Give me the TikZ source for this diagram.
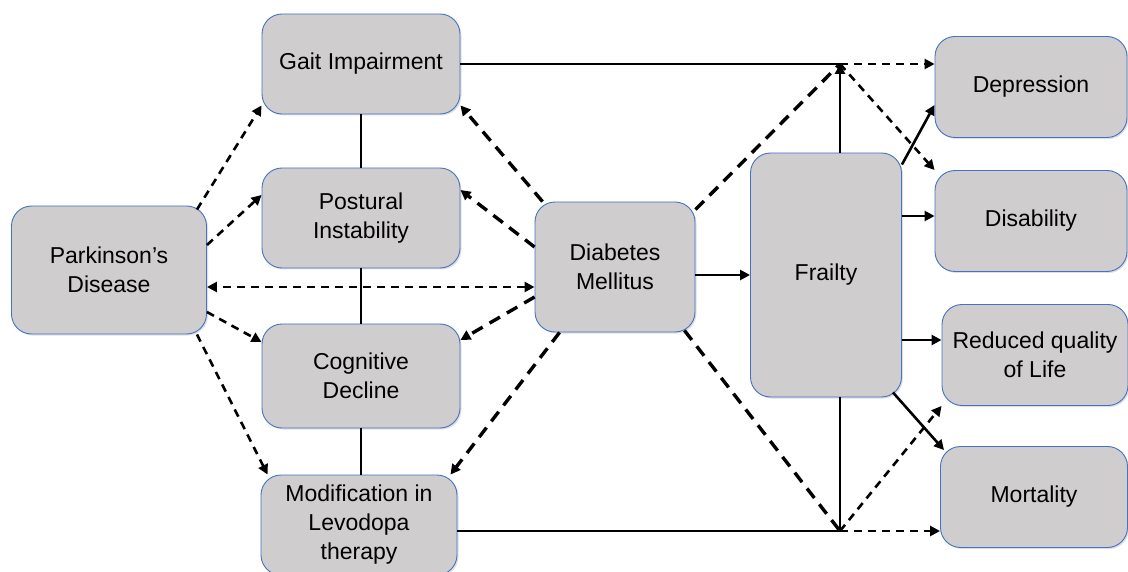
\documentclass[tikz,border=0pt]{standalone}
\usepackage{fontspec}
\setmainfont{Liberation Sans}
\usetikzlibrary{arrows.meta,shadows}
\definecolor{boxgray}{RGB}{208,205,206}
\definecolor{boxblue}{RGB}{68,114,196}

\begin{document}
\begin{tikzpicture}[x=1pt,y=-1pt,
  box/.style={draw=boxblue,line width=0.9pt,fill=boxgray,rounded corners=20pt,align=center,
    font=\fontsize{23}{29}\selectfont,
    drop shadow={opacity=0.25,shadow xshift=1.5pt,shadow yshift=-1.5pt}},
  link/.style={line width=2.6pt},
  dlink/.style={line width=2.6pt,dash pattern=on 8pt off 6pt},
  Dlink/.style={line width=3.4pt,dash pattern=on 12pt off 8pt},
  >={Triangle[length=10pt,width=10pt]}]
\useasboundingbox (0,0) rectangle (1128,572);

\node[box,minimum width=198pt,minimum height=100pt] (gait) at (361,64) {Gait Impairment};
\node[box,minimum width=198pt,minimum height=100pt] (post) at (361,218) {Postural\\Instability};
\node[box,minimum width=198pt,minimum height=104pt] (cogn) at (361,376) {Cognitive\\Decline};
\node[box,minimum width=196pt,minimum height=100pt] (levo) at (359,525) {Modification in\\Levodopa\\therapy};
\node[box,minimum width=195pt,minimum height=128pt] (pd) at (109,270) {Parkinson’s\\Disease};
\node[box,minimum width=160pt,minimum height=130pt] (dm) at (615,267) {Diabetes\\Mellitus};
\node[box,minimum width=151pt,minimum height=244pt] (frail) at (826,275) {Frailty};
\node[box,minimum width=192pt,minimum height=101pt] (dep) at (1031,87) {Depression};
\node[box,minimum width=192pt,minimum height=101pt] (dis) at (1031,221) {Disability};
\node[box,minimum width=186pt,minimum height=101pt] (qol) at (1035,355) {Reduced quality\\of Life};
\node[box,minimum width=187pt,minimum height=101pt] (mort) at (1034,497) {Mortality};
\coordinate (j1) at (840,64);
\coordinate (j2) at (840,531);

\draw[link] (gait.south) -- (post.north);
\draw[link] (post.south) -- (cogn.north);
\draw[link] (cogn.south) -- (cogn.south |- levo.north);

\draw[dlink,->] ([xshift=-10pt,yshift=-4pt]pd.north east) -- ([yshift=9pt]gait.south west);
\draw[dlink,->] ([yshift=25pt]pd.east) -- ([yshift=23pt]post.west);
\draw[dlink,<->] ([yshift=-20pt]dm.west) -- ([yshift=-17pt]pd.east);
\draw[dlink,->] ([yshift=-42pt]pd.east) -- ([yshift=34pt]cogn.west);
\draw[dlink,->] ([xshift=-10pt]pd.south east) -- ([xshift=7pt]levo.north west);

\draw[Dlink,->] ([xshift=8pt]dm.north west) -- ([yshift=9pt]gait.south east);
\draw[Dlink,->] ([yshift=20pt]dm.west) -- ([yshift=28pt]post.east);
\draw[Dlink,->] ([yshift=-30pt]dm.west) -- ([yshift=36pt]cogn.east);
\draw[Dlink,->] ([xshift=25pt]dm.south west) -- ([xshift=-7pt]levo.north east);

\draw[link,->] (dm.east |- frail.west) -- (frail.west);

\draw[link] (gait.east) -- (j1);
\draw[link,->] (frail.north -| j1) -- (j1);
\draw[Dlink] ([yshift=-8pt]dm.north east) -- (j1);
\draw[dlink,->] (j1) -- (dep.west |- j1);
\draw[dlink,->] (j1) -- (dis.north west);

\draw[link] (levo.east |- j2) -- (j2);
\draw[link] (frail.south -| j2) -- (j2);
\draw[Dlink] ([xshift=-11pt,yshift=2pt]dm.south east) -- (j2);
\draw[dlink,->] (j2) -- (mort.west |- j2);
\draw[dlink,->] (j2) -- (qol.south west);

\draw[link,->] ([yshift=-12pt]frail.north east) -- ([yshift=33pt]dep.south west);
\draw[link,->] ([yshift=59pt]frail.east) -- ([yshift=5pt]dis.west);
\draw[link,->] ([yshift=-65pt]frail.east) -- ([yshift=15pt]qol.west);
\draw[link,->] ([xshift=-9pt,yshift=5pt]frail.south east) -- ([xshift=4pt,yshift=-4pt]mort.north west);
\end{tikzpicture}
\end{document}
